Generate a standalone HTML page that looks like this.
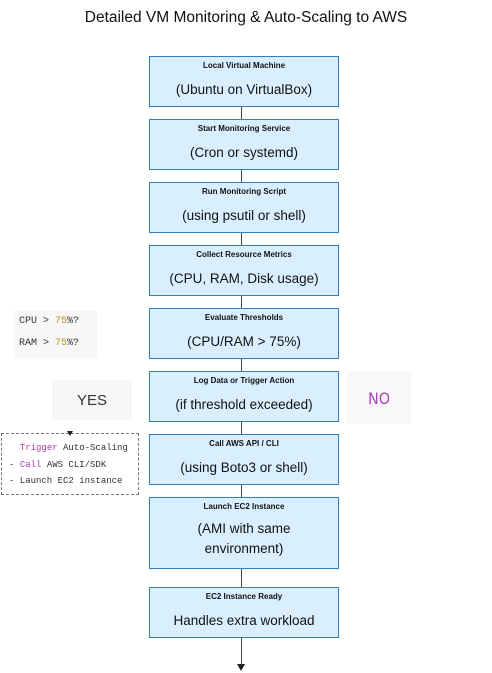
<!DOCTYPE html>
<html><head><meta charset="utf-8"><style>
body{margin:0;width:492px;height:673px;background:#fff;position:relative;overflow:hidden;font-family:"Liberation Sans",sans-serif;}
.t{position:absolute;left:0;width:492px;top:9px;text-align:center;font-size:15.5px;color:#111;}
.b{position:absolute;left:149px;width:188px;background:#d9efff;border:1px solid #2f7fc1;text-align:center;color:#111;}
.b .h{font-size:8px;font-weight:bold;margin-top:4px;}
.b .s{font-size:13.5px;margin-top:10px;line-height:20px;}
.l{position:absolute;left:241px;width:1px;background:#444;}
.m{font-family:"Liberation Mono",monospace;color:#333;}
</style></head><body>
<div class="t">Detailed VM Monitoring &amp; Auto-Scaling to AWS</div>

<div class="l" style="top:107px;height:12px"></div>
<div class="l" style="top:170px;height:12px"></div>
<div class="l" style="top:233px;height:12px"></div>
<div class="l" style="top:296px;height:12px"></div>
<div class="l" style="top:359px;height:12px"></div>
<div class="l" style="top:422px;height:12px"></div>
<div class="l" style="top:485px;height:12px"></div>
<div class="l" style="top:568px;height:19px"></div>
<div class="l" style="top:638px;height:28px"></div>
<svg style="position:absolute;left:237px;top:664px" width="9" height="8"><polygon points="0,0 8,0 4,7" fill="#222"/></svg>

<div class="b" style="top:56px;height:49px"><div class="h">Local Virtual Machine</div><div class="s">(Ubuntu on VirtualBox)</div></div>
<div class="b" style="top:119px;height:49px"><div class="h">Start Monitoring Service</div><div class="s">(Cron or systemd)</div></div>
<div class="b" style="top:182px;height:49px"><div class="h">Run Monitoring Script</div><div class="s">(using psutil or shell)</div></div>
<div class="b" style="top:245px;height:49px"><div class="h">Collect Resource Metrics</div><div class="s">(CPU, RAM, Disk usage)</div></div>
<div class="b" style="top:308px;height:49px"><div class="h">Evaluate Thresholds</div><div class="s">(CPU/RAM &gt; 75%)</div></div>
<div class="b" style="top:371px;height:49px"><div class="h">Log Data or Trigger Action</div><div class="s">(if threshold exceeded)</div></div>
<div class="b" style="top:434px;height:49px"><div class="h">Call AWS API / CLI</div><div class="s">(using Boto3 or shell)</div></div>
<div class="b" style="top:497px;height:70px"><div class="h">Launch EC2 Instance</div><div class="s" style="margin-top:8px">(AMI with same<br>environment)</div></div>
<div class="b" style="top:587px;height:49px"><div class="h">EC2 Instance Ready</div><div class="s">Handles extra workload</div></div>

<div class="m" style="position:absolute;left:14px;top:311px;width:83px;height:47px;background:#f7f7f7;font-size:10px;line-height:22px;padding-left:5px;box-sizing:border-box">CPU &gt; <span style="color:#b8962e">75</span>%?<br>RAM &gt; <span style="color:#b8962e">75</span>%?</div>
<div style="position:absolute;left:52px;top:380px;width:80px;height:40px;background:#f6f6f6;font-size:15px;text-align:center;line-height:42px;color:#333">YES</div>
<div style="position:absolute;left:347px;top:371px;width:64px;height:53px;background:#f8f8f8;font-size:16px;text-align:center;line-height:56px;color:#a845b8;font-family:'DejaVu Sans Condensed','Liberation Sans Narrow',sans-serif">NO</div>
<div class="m" style="position:absolute;left:1px;top:433px;width:138px;height:62px;border:1px dashed #777;font-size:9px;line-height:16.5px;box-sizing:border-box;padding:6px 0 0 7px;white-space:pre;background:#fff"><span>  <span style="color:#b03ab0">Trigger</span> Auto-Scaling</span>
- <span style="color:#b03ab0">Call</span> AWS CLI/SDK
- Launch EC2 instance</div>
<svg style="position:absolute;left:67px;top:431px" width="7" height="6"><polygon points="0,0 6,0 3,5" fill="#222"/></svg>
</body></html>
